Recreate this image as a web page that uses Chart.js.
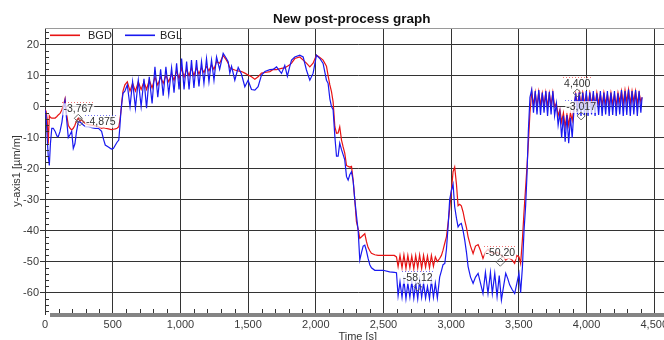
<!DOCTYPE html>
<html><head><meta charset="utf-8">
<script src="https://cdn.jsdelivr.net/npm/chart.js"></script>
<style>
html,body{margin:0;padding:0;background:#fff;overflow:hidden;width:664px;height:340px;}
canvas{display:block;}
</style></head><body>
<canvas id="c" width="704" height="340"></canvas>
<script>
const chartTitle = 'New post-process graph';
const xTitle = 'Time [s]';
const yTitle = 'y-axis1 [µm/m]';
const seriesNames = ['BGD', 'BGL'];

const timeS = [
  0, 8, 16, 24, 32, 40, 50, 61, 75, 88, 98, 111, 125, 140, 148, 158, 172, 185, 197, 209, 221, 233, 246, 258, 270, 285, 300, 320, 345, 370, 395, 418, 432, 445, 468, 490, 505, 520, 532, 545, 553, 560, 567, 576, 590,
  608, 628, 647, 668, 689, 710, 731, 750, 770, 791, 812, 833, 854, 873, 893, 914, 935, 953, 972, 990, 1009, 1027, 1046, 1064, 1082, 1100, 1119, 1137, 1156, 1174, 1193, 1211, 1230, 1248, 1267, 1290,
  1316, 1340, 1353, 1365, 1378, 1402, 1427, 1451, 1476, 1500, 1525, 1550, 1574, 1599, 1624, 1661, 1685, 1710, 1747, 1771, 1790, 1808, 1821, 1845, 1882, 1907, 1931, 1956, 1980, 2005, 2030, 2054, 2079, 2091, 2104, 2116, 2128,
  2141, 2153, 2165, 2177, 2190, 2202, 2214, 2227, 2239, 2251, 2264, 2276, 2288, 2300, 2313, 2325, 2338, 2350, 2362, 2374, 2386, 2399, 2411, 2436, 2460, 2497, 2546, 2580, 2596,
  2608, 2622, 2637, 2651, 2666, 2680, 2695, 2709, 2724, 2738, 2753, 2767, 2782, 2796, 2811, 2825, 2840, 2854, 2869, 2883, 2898,
  2915, 2928, 2940, 2953, 2965, 2977, 2989, 3002, 3014, 3026, 3039, 3051, 3063, 3075, 3088, 3100, 3113, 3125, 3143, 3162, 3180, 3199, 3217, 3235, 3253, 3272, 3290, 3304, 3322, 3339, 3355, 3371, 3387, 3403, 3418, 3432, 3450, 3469, 3485, 3501, 3513, 3526, 3538, 3550, 3560, 3570,
  3582, 3595, 3608, 3621, 3634, 3647, 3660, 3673, 3686, 3699, 3712, 3725, 3738, 3751, 3764, 3777, 3790, 3803, 3816, 3829, 3842, 3855, 3868, 3881, 3894, 3907, 3920, 3933, 3946, 3959, 3972, 3985, 3998, 4011, 4024, 4037, 4050, 4063, 4076, 4089, 4102, 4115, 4128, 4141, 4154, 4167, 4180, 4193, 4206, 4219, 4232, 4245, 4258, 4271, 4284, 4297, 4310, 4323, 4336, 4349, 4362, 4375, 4388, 4401, 4410
];

const bgdValues = [
  -1, -1.5, -4, -12, -3, -3.5, -3.7, -3.7, -3.7, -3.2, -2.7, -2.2, -1, 1, 2.5, -2, -6, -7, -7.5, -7, -6, -4.5, -3.7, -4.8, -4.2, -5, -5.5, -5.8, -6, -6.2, -6.5, -7, -6.8, -7, -7.2, -7.4, -7.3, -7.2, -7, -6.5, -4.4, -2, 1.5, 5, 7,
  8, 5, 7.5, 5, 8, 5.5, 8, 5.5, 8.5, 6, 9.5, 7, 9.5, 7.5, 10, 8, 10.5, 8.5, 11.5, 9, 12.5, 9.5, 12, 10, 12.5, 10, 12.5, 10.5, 12.5, 11, 13, 11.5, 13.5, 12, 14.5, 14,
  16.5, 15, 14, 12.5, 12.2, 11.8, 11.5, 11.3, 10.8, 10.2, 9.6, 8.8, 9.6, 10.8, 11, 11.3, 12, 11.9, 12.3, 12.5, 13, 13.5, 14, 15.5, 16, 15, 14, 12.8, 14, 16.6, 15.8, 15, 13, 10, 7, 4.8, 1.5,
  -6.5, -8.6, -8.5, -6.5, -10.8, -13, -15, -19, -19.3, -19.5, -19.3, -23.7, -30, -37, -39.5, -42.5, -42, -41.5, -41, -43.5, -45.4, -46.5, -47.3, -47.8, -48, -48, -48, -48, -48.5,
  -51.6, -48, -52, -47.8, -52.2, -48, -52, -48.2, -52.3, -48, -52, -47.8, -52.2, -48, -51.8, -48.2, -52, -48, -51.5, -48.5, -50,
  -49, -48, -46.3, -44, -42, -37.7, -33, -27, -21, -19.5, -25, -32, -31.5, -32, -34, -36.6, -39, -42, -45, -47.4, -45, -44.5, -46.5, -49, -47, -46, -47, -47.2, -47.5, -47, -47.5, -48, -48.5, -49.5, -49, -49, -49.5, -50.6, -48, -48.5, -50.6, -43, -34, -26, -19.4, -12,
  -2, 4.8, 0.5, 4.5, 0, 4.8, 0.5, 4.3, 0.5, 4.5, 0, 4.3, 0.5, 4.5, 0, 1, -3, -1, -5, -2, -6.5, -2.5, -6, -2, -4.5, 0, 4, 0.5, 4.4, 0.5, 4.5, 1, 4, 0.5, 4.5, 1, 4, 0.5, 4.5, 1, 4, 0.5, 4.5, 1, 4, 0.5, 4.5, 1, 4, 0.5, 4.5, 1.5, 5, 1, 5.3, 1.5, 5.5, 1, 5, 1.5, 5, 1, 4.5, 1.5, 3
];

const bglValues = [
  -1, -3, -10, -16, -19, -12, -7, -7, -8, -9.5, -9.7, -8, -5, 0, 2, -3.3, -10, -9, -8, -13.5, -12, -8, -4.9, -5, -5.4, -6, -6.5, -6.5, -6.8, -7, -7, -8, -10.5, -12.4, -13, -13.7, -13.5, -12.4, -11.5, -10.8, -6.5, -2, 1, 4.3, 5,
  7, 0, 8, -0.5, 8.5, 0, 9, -0.5, 9.6, 1, 12.8, 3, 12, 3.5, 12.8, 4, 12.5, 4.5, 14, 5.5, 15.5, 5.5, 14.5, 5.5, 15, 6, 15, 6.5, 14.5, 7.5, 15.5, 8, 15, 8.5, 16, 12,
  17.2, 15.5, 14.5, 10.8, 13, 8.5, 12.6, 10.5, 6.4, 8.5, 5.5, 5.3, 6.4, 10.2, 11.3, 11.9, 12, 12.8, 10.7, 13.3, 9.8, 13, 15, 16, 16.6, 16, 11.8, 8.5, 10.7, 16.6, 15.5, 13.9, 8.5, 7.5, 2.5, 0, -1,
  -9.7, -16, -16, -11.8, -13.9, -15.5, -17.2, -22.6, -23.7, -22, -21, -24, -30, -35, -40, -49.5, -47, -45, -44.7, -46.5, -48.9, -51, -52, -52.8, -52.8, -52.8, -53.3, -53.5, -53.6,
  -61, -56.5, -61.5, -56, -62, -57, -61.5, -56.5, -61.8, -57, -62, -56, -61.5, -57, -61.8, -58, -62, -56, -61.5, -57, -61.8,
  -55, -53, -51, -50.6, -46, -38.8, -30, -27, -25, -32.3, -36, -38.8, -38, -37.7, -40, -43, -47, -51.6, -55, -57, -55, -53.8, -57, -60.3, -53.5, -60.3, -53.5, -60.3, -53.8, -61.3, -54.5, -62.4, -58, -53.8, -55.5, -57.5, -59, -60.3, -57, -53.8, -60, -52, -40, -32, -22, -8,
  3, 5.5, -2, 5, -2.5, 5.3, -2.7, 4.5, -2, 5, -3, 4.8, -2.5, 5, -3, 1, -6, -2, -10, -3, -11.3, -2.7, -11.8, -3.5, -10, -1, 4.3, -2.5, 4.5, -3, 4.5, -2.7, 5, -3, 4.5, -2.5, 5, -3, 4.3, -2.7, 5, -3, 4.5, -2.5, 5, -3, 4.5, -2.7, 5, -3, 4.3, -2.5, 5.3, -3, 5, -2.7, 5.5, -3, 5, -2.5, 5.3, -3, 5, -2, 3
];

const xTickValues = [0, 500, 1000, 1500, 2000, 2500, 3000, 3500, 4000, 4500];
const yTickValues = [-60, -50, -40, -30, -20, -10, 0, 10, 20];

const annoSeries = ['BGD', 'BGL', 'BGL', 'BGD', 'BGD', 'BGL'];
const annoTime = [246, 258, 2753, 3363, 3931, 3960];
const annoValue = [-3.767, -4.875, -58.12, -50.20, 4.400, -3.017];
const annoText = ['-3,767', '-4,875', '-58,12', '-50,20', '4,400', '-3,017'];

const RED = 'rgb(232,20,20)';
const BLUE = 'rgb(25,25,240)';
const FONT = '"Liberation Sans", Arial, sans-serif';

function colorOf(name) { return name === 'BGD' ? RED : BLUE; }

Chart.defaults.font.family = FONT;

const extras = {
  id: 'extras',
  afterDraw(chart) {
    const ctx = chart.ctx;
    const a = chart.chartArea;
    const x = chart.scales.x, y = chart.scales.y;
    ctx.save();
    ctx.setLineDash([]);
    ctx.globalAlpha = 1;
    // minor ticks
    ctx.fillStyle = '#333';
    for (let v = -66; v <= 24; v += 2) {
      if (v % 10 === 0) continue;
      const py = Math.round(y.getPixelForValue(v));
      ctx.fillRect(a.left, py, 4, 1);
    }
    for (let v = 100; v < x.max; v += 100) {
      if (v % 500 === 0) continue;
      const px = Math.round(x.getPixelForValue(v));
      ctx.fillRect(px, a.bottom - 5, 1, 5);
    }
    // bottom bar
    ctx.fillStyle = '#848484';
    ctx.fillRect(a.left + 5, a.bottom - 1, a.right - a.left, 4);
    // top frame
    ctx.fillStyle = '#9a9a9a';
    ctx.fillRect(a.left, Math.round(a.top), a.right - a.left, 1);

    // annotations
    ctx.font = '10.5px ' + FONT;
    ctx.textBaseline = 'middle';
    ctx.textAlign = 'left';
    for (let i = 0; i < annoTime.length; i++) {
      const px = x.getPixelForValue(annoTime[i]);
      const py = y.getPixelForValue(annoValue[i]);
      const col = colorOf(annoSeries[i]);
      const w = ctx.measureText(annoText[i]).width;
      let lx, ly;
      if (i === 1) { lx = px + 6; ly = py; } else { lx = px - w / 2; ly = py - 9; }
      ctx.fillStyle = 'rgba(255,255,255,0.75)';
      ctx.fillRect(lx - 1, ly - 6, w + 2, 12);
      ctx.fillStyle = col;
      ctx.globalAlpha = 0.6;
      for (let dx = 0; dx < w + 2; dx += 3) ctx.fillRect(Math.round(lx - 1 + dx), Math.round(ly - 7), 1, 1);
      ctx.globalAlpha = 1;
      ctx.strokeStyle = '#666';
      ctx.lineWidth = 1;
      ctx.beginPath();
      ctx.moveTo(px, py - 4); ctx.lineTo(px + 4, py); ctx.lineTo(px, py + 4); ctx.lineTo(px - 4, py); ctx.closePath();
      ctx.stroke();
      ctx.fillStyle = '#333';
      ctx.fillText(annoText[i], lx, ly);
    }

    // legend
    const ly = Math.round(a.top + 7);
    ctx.font = '11px ' + FONT;
    ctx.textAlign = 'left';
    ctx.textBaseline = 'middle';
    ctx.fillStyle = colorOf(seriesNames[0]);
    ctx.fillRect(a.left + 5, ly - 0.5, 30, 1.6);
    ctx.fillStyle = colorOf(seriesNames[1]);
    ctx.fillRect(a.left + 80, ly - 0.5, 30, 1.6);
    ctx.fillStyle = '#222';
    ctx.fillText(seriesNames[0], a.left + 43, ly + 0.5);
    ctx.fillText(seriesNames[1], a.left + 115, ly + 0.5);

    // title
    ctx.font = 'bold 13.5px ' + FONT;
    ctx.textAlign = 'center';
    ctx.fillStyle = '#111';
    ctx.fillText(chartTitle, (a.left + a.right) / 2 - 6, 19);
    ctx.restore();
  }
};

new Chart(document.getElementById('c'), {
  type: 'line',
  data: {
    datasets: [
      { label: seriesNames[1], data: timeS.map((t, i) => ({x: t, y: bglValues[i]})), borderColor: BLUE, borderWidth: 1.2, pointRadius: 0, tension: 0 },
      { label: seriesNames[0], data: timeS.map((t, i) => ({x: t, y: bgdValues[i]})), borderColor: RED, borderWidth: 1.2, pointRadius: 0, tension: 0 }
    ]
  },
  options: {
    responsive: false,
    animation: false,
    devicePixelRatio: 1,
    layout: { padding: { left: 0, top: 28, right: 33.5, bottom: 0 } },
    plugins: { legend: { display: false }, tooltip: { enabled: false }, title: { display: false } },
    scales: {
      x: {
        type: 'linear', min: 0, max: 4620,
        afterBuildTicks: s => { s.ticks = xTickValues.map(v => ({value: v})); },
        afterFit: s => { s.height = 26; },
        grid: { color: '#333', lineWidth: 1, drawTicks: false },
        border: { display: false },
        ticks: { color: '#3a3a3a', font: { size: 11 }, padding: 4, maxRotation: 0, autoSkip: false, includeBounds: false },
        title: { display: true, text: xTitle, color: '#333', font: { size: 11 }, padding: { top: 0, bottom: -4 } }
      },
      y: {
        type: 'linear', min: -66.9, max: 25.35,
        afterBuildTicks: s => { s.ticks = yTickValues.map(v => ({value: v})); },
        afterFit: s => { s.width = 45; },
        grid: { color: '#333', lineWidth: 1, drawTicks: true, tickLength: 5 },
        border: { display: true, color: '#333', width: 1 },
        ticks: { color: '#3a3a3a', font: { size: 11 }, padding: 1, includeBounds: false },
        title: { display: true, text: yTitle, color: '#333', font: { size: 11 }, padding: { top: 10, bottom: 0 } }
      }
    }
  },
  plugins: [extras]
});
</script>
</body></html>
